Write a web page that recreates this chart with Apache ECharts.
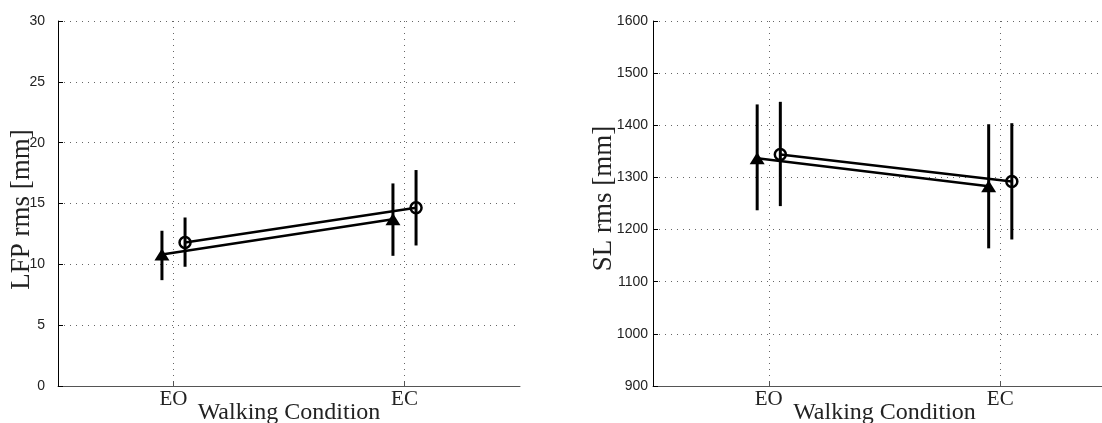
<!DOCTYPE html>
<html>
<head>
<meta charset="utf-8">
<script src="https://cdn.jsdelivr.net/npm/echarts@6/dist/echarts.min.js"></script>
<style>
  html, body { margin: 0; padding: 0; background: #fff; }
  #chart { width: 1102px; height: 423px; }
</style>
</head>
<body>
<div id="chart"></div>
<script>
// Walking conditions and their positions on the x scale
const conditions = ['EO', 'EC'];
const conditionPos = [1, 2];

// LFP rms [mm] – triangle group
const lfpTriMean = [10.8, 13.7];
const lfpTriLow  = [8.7, 10.7];
const lfpTriHigh = [12.76, 16.65];
// LFP rms [mm] – circle group
const lfpCircMean = [11.8, 14.65];
const lfpCircLow  = [9.8, 11.55];
const lfpCircHigh = [13.85, 17.75];

// SL rms [mm] – triangle group
const slTriMean = [1337, 1283];
const slTriLow  = [1237, 1164];
const slTriHigh = [1440, 1402];
// SL rms [mm] – circle group
const slCircMean = [1344, 1292];
const slCircLow  = [1245, 1181];
const slCircHigh = [1445, 1404];

// y tick settings
const lfpTicks = { min: 0, max: 30, interval: 5 };
const slTicks  = { min: 900, max: 1600, interval: 100 };

const DODGE = 0.05;
const SERIF = '"Liberation Serif", "Times New Roman", serif';
const SANS = '"Liberation Sans", Arial, sans-serif';
const dotted = { color: '#666', width: 1, type: [1, 5] };

function xAxisFor(gridIndex) {
  return {
    type: 'value', gridIndex, min: 0.5, max: 2.5,
    name: 'Walking Condition', nameLocation: 'middle', nameGap: 15,
    nameMoveOverlap: false,
    nameTextStyle: { fontFamily: SERIF, fontSize: 24, color: '#222', verticalAlign: 'top' },
    axisLine: { show: true, onZero: false, lineStyle: { color: '#555', width: 1 } },
    axisTick: { show: true, inside: true, length: 5, customValues: conditionPos, lineStyle: { color: '#555' } },
    axisLabel: {
      customValues: conditionPos, margin: 3,
      fontFamily: SERIF, fontSize: 21, color: '#222',
      formatter: v => conditions[conditionPos.indexOf(v)] || ''
    },
    splitLine: { show: true, lineStyle: dotted }
  };
}

// nameShift > 0 moves the rotated name up, < 0 moves it down
function yAxisFor(gridIndex, ticks, name, labelMargin, nameGap, nameShift) {
  return {
    type: 'value', gridIndex, min: ticks.min, max: ticks.max, interval: ticks.interval,
    name, nameLocation: 'middle', nameGap,
    nameMoveOverlap: false,
    nameTextStyle: {
      fontFamily: SERIF, fontSize: 27, color: '#222',
      padding: nameShift > 0 ? [0, 0, 0, nameShift] : [0, -nameShift, 0, 0]
    },
    axisLine: { show: true, lineStyle: { color: '#000', width: 1 } },
    axisTick: { show: true, inside: true, length: 5, lineStyle: { color: '#000' } },
    axisLabel: {
      margin: labelMargin, fontFamily: SANS, fontSize: 14, color: '#222',
      formatter: v => String(v)
    },
    splitLine: { show: true, lineStyle: dotted }
  };
}

function meanLine(gi, mean, shift, symbol) {
  const open = symbol === 'circle';
  return {
    type: 'line', xAxisIndex: gi, yAxisIndex: gi, z: 4,
    data: conditionPos.map((x, i) => [x + shift, mean[i]]),
    symbol, symbolSize: open ? 11 : [15, 12],
    showAllSymbol: true,
    lineStyle: { color: '#000', width: 2.5 },
    itemStyle: open
      ? { color: 'rgba(255,255,255,0)', borderColor: '#000', borderWidth: 2.5 }
      : { color: '#000', borderColor: '#000', borderWidth: 0 },
    animation: false, silent: true
  };
}

function errorBars(gi, low, high, shift) {
  return {
    type: 'custom', xAxisIndex: gi, yAxisIndex: gi, z: 3,
    data: conditionPos.map((x, i) => [x + shift, low[i], high[i]]),
    encode: { x: 0, y: [1, 2] },
    renderItem(params, api) {
      const a = api.coord([api.value(0), api.value(1)]);
      const b = api.coord([api.value(0), api.value(2)]);
      return {
        type: 'line',
        shape: { x1: a[0], y1: a[1], x2: b[0], y2: b[1] },
        style: { stroke: '#000', lineWidth: 3 }
      };
    },
    animation: false, silent: true
  };
}

const chart = echarts.init(document.getElementById('chart'), null, { renderer: 'canvas' });
chart.setOption({
  backgroundColor: '#fff',
  animation: false,
  grid: [
    { left: 58, right: 582, top: 21, bottom: 37, containLabel: false, outerBoundsMode: 'none' },
    { left: 653, right: -14, top: 21, bottom: 37, containLabel: false, outerBoundsMode: 'none' }
  ],
  xAxis: [xAxisFor(0), xAxisFor(1)],
  yAxis: [
    yAxisFor(0, lfpTicks, 'LFP rms [mm]', 13, 23, -12),
    yAxisFor(1, slTicks, 'SL rms [mm]', 5, 36, 10)
  ],
  series: [
    errorBars(0, lfpTriLow, lfpTriHigh, -DODGE),
    errorBars(0, lfpCircLow, lfpCircHigh, DODGE),
    meanLine(0, lfpTriMean, -DODGE, 'triangle'),
    meanLine(0, lfpCircMean, DODGE, 'circle'),
    errorBars(1, slTriLow, slTriHigh, -DODGE),
    errorBars(1, slCircLow, slCircHigh, DODGE),
    meanLine(1, slTriMean, -DODGE, 'triangle'),
    meanLine(1, slCircMean, DODGE, 'circle')
  ]
});
</script>
</body>
</html>
